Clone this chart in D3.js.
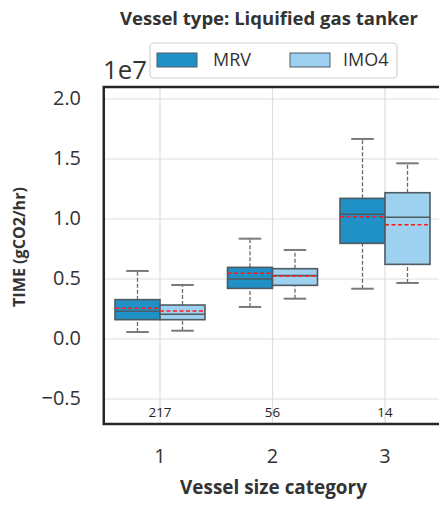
<!DOCTYPE html>
<html><head><meta charset="utf-8">
<script src="https://cdn.jsdelivr.net/npm/d3@7"></script>
<style>body{margin:0;background:#fff}svg{display:block}</style>
</head><body>
<script>
const categories = ["1","2","3"];
const series = ["MRV","IMO4"];
const counts = ["217","56","14"];
const yTicks = [-0.5,0.0,0.5,1.0,1.5,2.0];
// values in units of 1e7 gCO2/hr: [whiskerLow, q1, median, q3, whiskerHigh, mean]
const mrvStats = [
  [0.058,0.161,0.231,0.328,0.567,0.256],
  [0.267,0.422,0.500,0.597,0.836,0.547],
  [0.419,0.797,1.039,1.172,1.667,1.019]
];
const imo4Stats = [
  [0.069,0.161,0.206,0.283,0.450,0.233],
  [0.336,0.447,0.528,0.586,0.742,0.525],
  [0.467,0.622,1.014,1.219,1.464,0.953]
];
const colors = {MRV:"#1f91c7", IMO4:"#9ed1f0"};

const W=439,H=505;
const font="'Open Sans', 'DejaVu Sans', sans-serif";
const svg=d3.select("body").append("svg").attr("width",W).attr("height",H).style("font-family",font);
const L=103.75,R=441.25,T=87,B=424;
const x=d3.scaleBand().domain(categories).range([L,R]).padding(0);
const xs=d3.scaleBand().domain(series).range([0,x.bandwidth()*0.8]).padding(0);
const y=d3.scaleLinear().domain([-0.7083,2.1]).range([B,T]);

function fit(sel,target){
  const s=+sel.attr("font-size");
  const w=sel.node().getComputedTextLength();
  const ns=s*target/w;
  sel.attr("font-size",ns);
  return ns;
}

// grid
const g=svg.append("g");
g.selectAll(".hg").data(yTicks).join("line").attr("x1",L).attr("x2",R)
 .attr("y1",d=>y(d)).attr("y2",d=>y(d)).attr("stroke","#dedede").attr("stroke-width",1.2);
g.selectAll(".vg").data(categories).join("line").attr("x1",d=>x(d)+x.bandwidth()/2).attr("x2",d=>x(d)+x.bandwidth()/2)
 .attr("y1",T).attr("y2",B).attr("stroke","#dedede").attr("stroke-width",1.2);

const data=[];
categories.forEach((c,i)=>{
  data.push({c,s:"MRV",v:mrvStats[i]});
  data.push({c,s:"IMO4",v:imo4Stats[i]});
});
const edge="#4f5a62";
const bw=xs.bandwidth();
const bx=d=>x(d.c)+x.bandwidth()*0.1+xs(d.s);
const boxes=svg.append("g").selectAll("g").data(data).join("g");
boxes.append("line").attr("x1",d=>bx(d)+bw/2).attr("x2",d=>bx(d)+bw/2)
 .attr("y1",d=>y(d.v[0])).attr("y2",d=>y(d.v[1])).attr("stroke","#6a6a6a").attr("stroke-width",1.3).attr("stroke-dasharray","4,2");
boxes.append("line").attr("x1",d=>bx(d)+bw/2).attr("x2",d=>bx(d)+bw/2)
 .attr("y1",d=>y(d.v[3])).attr("y2",d=>y(d.v[4])).attr("stroke","#6a6a6a").attr("stroke-width",1.3).attr("stroke-dasharray","4,2");
boxes.append("line").attr("x1",d=>bx(d)+bw/4).attr("x2",d=>bx(d)+bw*3/4)
 .attr("y1",d=>y(d.v[0])).attr("y2",d=>y(d.v[0])).attr("stroke","#7a7a7a").attr("stroke-width",2);
boxes.append("line").attr("x1",d=>bx(d)+bw/4).attr("x2",d=>bx(d)+bw*3/4)
 .attr("y1",d=>y(d.v[4])).attr("y2",d=>y(d.v[4])).attr("stroke","#7a7a7a").attr("stroke-width",2);
boxes.append("rect").attr("x",d=>bx(d)).attr("width",bw)
 .attr("y",d=>y(d.v[3])).attr("height",d=>y(d.v[1])-y(d.v[3]))
 .attr("fill",d=>colors[d.s]).attr("stroke",edge).attr("stroke-width",1.6);
boxes.append("line").attr("x1",d=>bx(d)).attr("x2",d=>bx(d)+bw)
 .attr("y1",d=>y(d.v[2])).attr("y2",d=>y(d.v[2])).attr("stroke",edge).attr("stroke-width",1.6);
boxes.append("line").attr("x1",d=>bx(d)).attr("x2",d=>bx(d)+bw)
 .attr("y1",d=>y(d.v[5])).attr("y2",d=>y(d.v[5])).attr("stroke","#ff1a1a").attr("stroke-width",1.5).attr("stroke-dasharray","4,2.5");

// counts
const cnt=svg.append("g").selectAll("text").data(categories).join("text")
 .attr("x",(d)=>x(d)+x.bandwidth()/2).attr("y",417).attr("text-anchor","middle")
 .attr("font-size",12.5).attr("fill","#222").text((d,i)=>counts[i]);
const cs=fit(d3.select(cnt.nodes()[0]),23); cnt.attr("font-size",cs);

// spines
svg.append("path").attr("d",`M${R},${T}H${L}V${B}H${R}`).attr("fill","none").attr("stroke","#262626").attr("stroke-width",2.5);

// y ticks
const yt=svg.append("g").selectAll("text").data(yTicks).join("text")
 .attr("x",81).attr("y",d=>y(d)+6).attr("text-anchor","end").attr("font-size",16.5).attr("fill","#333")
 .text(d=>d3.format(".1f")(d).replace("-","\u2212"));
const ys=fit(d3.select(yt.nodes()[5]),28); yt.attr("font-size",ys);
// x ticks
svg.append("g").selectAll("text").data(categories).join("text")
 .attr("x",d=>x(d)+x.bandwidth()/2).attr("y",463).attr("text-anchor","middle").attr("font-size",ys).attr("fill","#333").text(d=>d);

fit(svg.append("text").attr("x",103).attr("y",79).attr("font-size",26).attr("fill","#333").text("1e7"),44);
fit(svg.append("text").attr("x",273.5).attr("y",494).attr("text-anchor","middle").attr("font-size",16.5).attr("font-weight","bold").attr("fill","#333").text("Vessel size category"),187);
fit(svg.append("text").attr("transform","translate(25,247) rotate(-90)").attr("text-anchor","middle").attr("font-size",15.5).attr("font-weight","bold").attr("fill","#333").text("TIME (gCO2/hr)"),120);
fit(svg.append("text").attr("x",269).attr("y",25).attr("text-anchor","middle").attr("font-size",15.5).attr("font-weight","bold").attr("fill","#333").text("Vessel type: Liquified gas tanker"),298);

// legend
const lg=svg.append("g");
lg.append("rect").attr("x",150).attr("y",43).attr("width",247).attr("height",35).attr("rx",4)
 .attr("fill","#fff").attr("stroke","#d0d0d0").attr("stroke-width",1.2);
const lx=[157,290];
const lt=[];
series.forEach((s,i)=>{
  lg.append("rect").attr("x",lx[i]).attr("y",53).attr("width",40).attr("height",14).attr("fill",colors[s]).attr("stroke",edge).attr("stroke-width",1);
  lt.push(lg.append("text").attr("x",[213,343][i]).attr("y",66).attr("font-size",16.5).attr("fill","#333").text(s));
});
const ls=fit(lt[0],38); lt[1].attr("font-size",ls);
</script>
</body></html>
